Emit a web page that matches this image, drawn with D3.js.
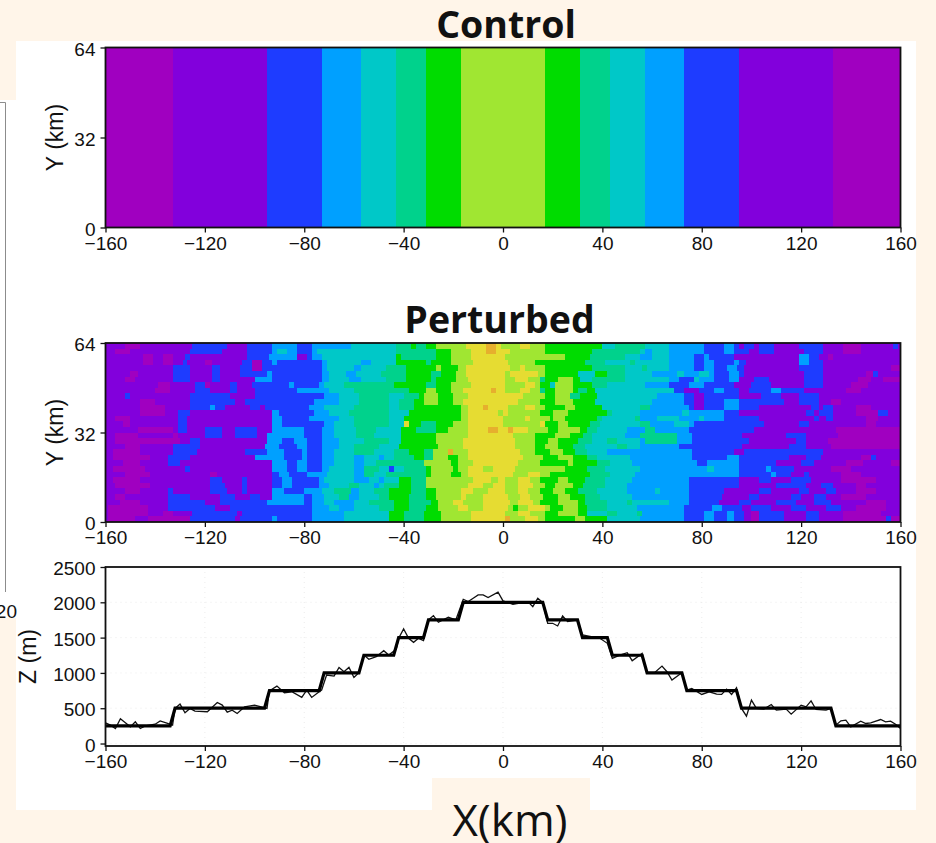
<!DOCTYPE html>
<html>
<head>
<meta charset="utf-8">
<script src="https://cdn.jsdelivr.net/npm/d3@7"></script>
<style>
  html, body { margin: 0; padding: 0; background: #fff5e9; }
  svg { display: block; }
  text { fill: #111; }
</style>
</head>
<body>
<div id="chart"></div>
<script>
// Colour levels of the shaded field
const levelColors = ["#a000c0", "#8200dc", "#1e3cff", "#00a0ff", "#00c8c8", "#00d28c", "#00dc00", "#a0e632", "#e6dc32", "#e6af2d"]

const xTicks = [-160, -120, -80, -40, 0, 40, 80, 120, 160]
const yTicks = [0, 32, 64]
const zTicks = [0, 500, 1000, 1500, 2000, 2500]

// Control run: level and right edge (km) of each band
const controlLevels = [0, 1, 2, 3, 4, 5, 6, 7, 6, 5, 4, 3, 2, 1, 0]
const controlEdges = [-133, -95, -73, -57, -43, -31, -17, 17, 31, 43, 57, 73, 95, 133, 160]

// Perturbed run, top row first: pairs of level and right edge (km)
const perturbedRows = [
  "1 -152 0 -146 1 -125 2 -111 1 -103 2 -93 3 -83 2 -77 3 -61 4 -43 5 -37 6 -35 5 -31 6 -27 7 -15 8 -7 9 -3 8 -1 7 7 8 11 7 17 6 40 4 45 5 57 4 67 3 81 2 89 3 93 2 95 1 97 2 101 1 103 2 109 1 119 2 129 1 137 0 144 1 157 2 159 1 160",
  "1 -156 0 -150 1 -126 2 -113 1 -103 2 -93 3 -91 4 -87 3 -83 2 -77 3 -75 4 -43 5 -27 6 -21 7 -13 8 -7 9 -3 8 3 7 17 6 36 5 55 4 57 3 60 4 67 3 81 2 89 3 93 2 99 1 103 2 109 1 121 2 129 1 137 0 144 1 160",
  "1 -145 0 -141 1 -137 0 -133 1 -128 2 -126 1 -103 2 -94 3 -83 1 -79 2 -77 3 -73 4 -43 6 -41 5 -27 6 -21 7 -13 8 1 7 25 6 35 5 49 4 55 3 60 4 67 3 77 2 81 3 83 2 93 1 119 3 123 2 127 1 131 0 133 1 160",
  "1 -145 0 -141 1 -137 0 -133 1 -129 2 -127 1 -120 0 -117 1 -105 2 -101 0 -97 2 -93 3 -91 2 -73 3 -71 4 -57 3 -53 4 -43 6 -31 5 -29 6 -21 7 -12 8 2 7 13 6 33 5 41 4 51 5 53 4 67 3 77 2 81 3 85 2 93 3 95 2 98 1 119 3 123 2 129 1 160",
  "1 -133 2 -126 1 -117 2 -114 1 -106 2 -101 0 -97 2 -91 2 -73 3 -71 4 -60 3 -57 4 -47 5 -39 6 -27 7 -25 6 -18 7 -15 8 3 7 7 8 9 7 17 6 36 5 49 4 56 5 58 4 67 3 77 2 81 3 85 2 90 3 94 2 97 1 119 2 129 1 156 0 160",
  "1 -150 0 -147 1 -133 2 -126 1 -117 2 -114 1 -106 2 -95 3 -93 2 -73 3 -70 4 -63 3 -59 4 -49 5 -39 6 -29 5 -25 6 -19 7 -15 8 1 7 3 8 14 7 17 6 30 4 37 6 42 5 49 4 60 3 70 4 73 3 79 4 83 3 85 2 91 3 95 2 97 1 121 2 129 1 146 0 149 2 151 1 160",
  "1 -152 0 -148 1 -133 2 -126 1 -117 2 -114 1 -100 3 -93 2 -73 3 -70 4 -62 3 -57 4 -47 5 -39 6 -29 5 -27 6 -19 7 -14 8 1 7 5 8 10 7 15 5 17 6 22 7 28 6 31 4 36 5 49 4 67 3 71 2 77 4 79 3 85 2 91 3 95 1 101 2 107 1 121 2 129 1 143 0 148 1 153 0 160",
  "1 -139 0 -134 1 -124 2 -120 0 -118 1 -110 2 -107 1 -101 2 -86 3 -84 2 -74 3 -72 4 -64 5 -44 6 -31 5 -27 6 -21 7 -13 8 1 7 9 8 13 7 15 6 19 4 21 7 28 6 36 5 42 4 57 3 67 2 75 3 81 2 93 1 100 2 108 1 121 2 129 1 140 0 147 1 160",
  "1 -140 0 -134 1 -124 2 -118 1 -110 2 -107 1 -100 2 -83 3 -74 3 -70 4 -60 5 -44 5 -38 6 -31 7 -27 6 -21 7 -16 8 -5 9 -3 8 1 7 7 8 11 7 15 5 17 6 21 7 28 6 30 5 34 6 37 4 60 4 69 2 73 1 79 2 85 3 89 2 95 1 99 2 108 3 112 2 121 1 138 0 144 1 160",
  "1 -152 2 -150 1 -126 2 -110 1 -100 2 -72 3 -66 4 -58 5 -46 4 -40 5 -34 6 -32 7 -26 6 -20 7 -14 8 0 8 8 7 17 6 21 7 27 5 31 6 38 4 62 3 73 2 77 1 81 2 95 1 104 2 112 1 119 2 127 1 160",
  "1 -146 0 -140 1 -126 2 -108 1 -104 2 -76 3 -66 4 -58 5 -46 4 -42 5 -36 6 -32 7 -26 6 -20 7 -16 8 0 8 6 7 15 6 21 7 28 6 37 4 60 3 73 2 77 1 81 2 89 3 95 2 113 1 119 2 127 1 132 0 136 1 160",
  "1 -146 0 -136 1 -126 2 -118 3 -116 2 -112 1 -102 2 -98 1 -96 2 -78 3 -72 4 -60 5 -46 4 -42 5 -36 6 -17 7 -14 8 -8 9 -6 8 2 7 9 8 13 7 17 6 25 7 29 6 40 4 55 5 59 3 75 2 77 1 81 2 89 3 95 2 103 1 124 2 127 1 129 2 133 1 142 0 148 1 160",
  "1 -146 0 -136 1 -131 2 -126 1 -93 3 -90 2 -76 3 -70 4 -62 5 -46 4 -38 6 -17 7 -14 8 -2 7 0 8 2 7 15 6 20 7 26 6 42 5 44 4 55 3 72 4 75 3 81 3 89 2 95 1 122 2 125 1 127 2 133 1 142 0 151 2 155 1 160",
  "1 -156 0 -150 1 -131 2 -127 1 -93 3 -89 2 -78 3 -74 3 -66 4 -60 5 -46 4 -40 6 -17 7 -14 8 0 7 9 8 11 7 19 6 20 7 25 6 38 5 40 4 53 5 55 3 62 4 71 3 79 4 81 3 89 2 103 1 125 2 127 1 130 2 133 1 146 0 151 1 160",
  "1 -153 0 -150 1 -131 2 -127 1 -93 3 -89 2 -72 3 -68 4 -60 5 -46 4 -40 8 -38 6 -33 5 -27 6 -20 7 -14 8 0 7 15 8 17 6 22 7 26 6 35 5 39 4 55 5 59 3 69 4 75 3 77 2 105 1 119 2 123 1 146 0 150 1 160",
  "1 -147 0 -133 1 -131 2 -127 1 -120 2 -113 1 -108 2 -99 1 -93 3 -80 2 -73 3 -68 4 -59 5 -51 4 -41 6 -35 5 -27 6 -22 7 -14 8 -6 9 -2 8 2 9 4 8 10 7 18 6 22 7 31 6 34 5 38 4 50 3 57 5 61 3 75 2 101 1 122 1 134 0 160",
  "1 -156 0 -147 1 -133 0 -131 1 -120 2 -113 1 -108 2 -99 1 -95 3 -80 2 -73 3 -68 4 -59 5 -52 4 -41 6 -27 7 -14 8 0 8 4 7 13 6 21 7 27 6 32 5 36 4 49 3 55 5 70 3 76 2 96 1 114 2 122 1 135 0 160",
  "1 -156 0 -130 1 -126 2 -122 1 -95 3 -89 2 -84 3 -79 2 -73 3 -66 4 -56 5 -46 4 -41 6 -27 7 -16 8 -1 8 5 7 13 6 18 7 22 6 30 5 36 4 42 5 46 4 55 3 57 5 70 3 76 2 99 1 118 2 122 1 131 0 160",
  "1 -152 0 -146 1 -133 2 -122 1 -96 3 -90 2 -83 3 -79 2 -73 3 -66 4 -60 5 -50 4 -42 6 -26 7 -16 8 -1 8 5 7 13 6 17 7 22 6 28 5 33 4 46 5 50 4 55 3 71 2 96 1 115 2 122 1 132 0 160",
  "1 -157 0 -146 1 -133 2 -123 1 -104 2 -95 3 -88 2 -81 3 -79 2 -73 3 -68 4 -60 5 -52 4 -44 5 -38 6 -32 5 -28 7 -22 9 -20 7 -14 8 -1 8 7 7 13 6 19 7 24 6 29 5 34 4 42 3 76 2 93 1 97 2 129 1 160",
  "1 -157 0 -142 1 -135 2 -126 1 -100 3 -88 2 -81 3 -79 2 -73 3 -68 4 -60 3 -56 4 -50 3 -48 4 -44 5 -36 6 -32 5 -28 7 -22 6 -18 7 -14 8 -1 8 8 7 16 6 22 7 28 6 34 5 38 4 51 3 76 2 90 3 95 2 115 1 122 2 128 1 144 0 148 2 150 1 160",
  "1 -153 0 -146 1 -135 2 -130 1 -93 3 -87 2 -83 3 -79 2 -73 3 -68 4 -60 3 -56 4 -51 5 -40 5 -32 7 -21 6 -18 7 -12 8 -1 8 6 7 15 6 26 7 28 6 38 5 43 4 52 3 78 2 82 3 95 2 110 1 120 2 125 1 138 0 145 1 156 0 160",
  "1 -157 0 -144 1 -128 2 -126 1 -93 3 -87 2 -83 3 -79 2 -73 3 -70 4 -60 3 -56 5 -50 4 -46 2 -44 4 -40 5 -31 6 -29 7 -20 6 -18 7 -14 8 -8 7 -4 8 1 8 5 7 10 7 25 6 34 5 41 4 55 3 82 4 85 3 95 2 106 3 108 2 117 1 124 1 132 0 140 1 160",
  "1 -152 0 -142 1 -118 0 -115 1 -93 2 -90 3 -86 2 -79 3 -76 3 -71 4 -60 3 -56 5 -52 4 -47 5 -31 6 -29 7 -21 6 -17 7 -14 8 -1 8 4 7 10 8 15 7 19 6 35 5 43 4 53 3 95 2 108 3 110 2 116 1 121 2 123 1 136 0 144 1 160",
  "1 -157 0 -146 1 -118 2 -113 1 -105 2 -103 1 -93 2 -89 3 -85 2 -74 3 -72 4 -60 3 -54 4 -50 3 -48 4 -42 6 -37 5 -31 7 -22 7 -12 8 -5 7 -2 8 1 7 6 8 11 7 15 6 22 7 26 6 33 5 41 4 52 3 75 2 95 1 103 2 108 1 116 2 124 1 136 0 150 1 160",
  "1 -156 0 -142 1 -118 2 -112 1 -105 2 -103 1 -93 2 -89 3 -85 2 -74 3 -70 4 -62 5 -58 4 -52 3 -50 4 -48 5 -42 6 -37 5 -31 7 -22 7 -14 8 -8 7 -4 8 1 7 6 8 12 7 17 6 21 7 28 6 32 5 41 4 50 3 75 2 95 1 110 2 122 1 128 2 133 1 142 0 146 1 160",
  "1 -152 0 -146 1 -135 2 -133 1 -118 2 -111 1 -105 2 -103 1 -93 3 -88 2 -80 3 -73 4 -68 5 -61 3 -58 4 -52 5 -46 6 -37 5 -31 6 -27 7 -17 8 -12 7 -6 8 1 7 6 8 10 7 15 6 20 7 25 6 30 5 38 4 50 3 61 4 63 3 75 2 89 1 103 2 108 1 119 2 123 1 130 2 134 1 142 0 150 1 160",
  "1 -156 0 -152 1 -135 2 -126 1 -114 2 -108 1 -102 2 -98 1 -93 3 -80 2 -77 3 -72 4 -66 5 -62 3 -58 4 -50 5 -46 6 -38 5 -31 6 -27 7 -17 8 -15 7 -8 8 2 7 7 8 11 7 16 6 22 7 27 6 33 5 39 4 52 3 75 2 88 1 99 2 103 1 116 2 120 1 125 2 130 1 136 0 146 1 160",
  "1 -154 0 -146 1 -135 2 -120 1 -114 2 -95 3 -92 3 -80 2 -77 3 -72 4 -68 3 -60 4 -54 5 -44 6 -38 5 -29 6 -26 7 -20 8 -16 7 -8 8 3 7 6 8 12 7 15 6 22 7 30 6 33 5 42 4 50 5 52 4 67 3 75 2 87 1 95 2 100 1 110 2 118 1 125 2 132 1 146 0 154 1 160",
  "1 -159 0 -143 1 -135 2 -116 1 -110 2 -77 3 -70 4 -66 3 -60 4 -50 5 -44 6 -38 5 -31 6 -26 7 -18 8 -14 7 -8 8 2 7 4 6 6 7 10 8 17 7 19 6 24 7 30 6 34 5 42 4 54 3 73 2 84 3 88 2 96 1 100 2 108 1 116 2 122 1 130 2 136 1 142 0 154 1 160",
  "1 -159 0 -143 1 -137 0 -133 1 -125 2 -107 1 -105 2 -77 3 -64 4 -60 4 -46 6 -40 5 -32 6 -25 7 -13 8 1 7 6 8 11 7 17 6 22 7 30 6 34 4 42 5 46 4 54 5 56 3 73 2 81 3 85 2 90 3 93 2 97 1 100 0 103 2 113 1 122 2 127 1 137 0 152 1 160",
  "1 -159 0 -148 1 -143 0 -126 2 -108 1 -106 2 -93 3 -91 2 -77 3 -64 4 -46 6 -40 5 -32 6 -25 7 -13 8 1 9 3 7 9 8 14 7 17 6 29 7 33 6 42 4 55 3 73 2 81 3 85 2 90 3 93 2 97 1 100 0 103 2 113 1 122 2 127 1 137 0 154 2 156 0 160"
]

// Model height cross-sections
const controlX = [-160, -134, -132, -96, -94, -74, -72, -58, -56, -44, -42, -32, -30, -18, -16, 16, 18, 30, 32, 42, 44, 56, 58, 72, 74, 94, 96, 132, 134, 160]
const controlZ = [250, 250, 500, 500, 750, 750, 1000, 1000, 1250, 1250, 1500, 1500, 1750, 1750, 2000, 2000, 1750, 1750, 1500, 1500, 1250, 1250, 1000, 1000, 750, 750, 500, 500, 250, 250]

const perturbedX = [-160, -158, -156, -154, -152, -150, -148, -146, -144, -140, -138, -135, -133, -132, -130, -128, -126, -124, -119, -115, -113, -111, -109, -107, -104, -100, -95, -94, -91, -88, -85, -81, -79, -77, -74, -73, -71, -68, -66, -64, -62, -60, -58, -56, -54, -51, -48, -46, -43, -42, -40, -38, -36, -34, -32, -30, -28, -26, -22, -19, -16, -14, -12, -10, -8, -6, -2, 0, 4, 10, 12, 14, 16, 18, 20, 22, 24, 26, 30, 32, 34, 39, 42, 44, 47, 50, 52, 56, 58, 61, 64, 66, 68, 72, 74, 76, 80, 83, 86, 88, 90, 92, 94, 96, 98, 100, 102, 105, 108, 110, 114, 116, 120, 122, 124, 126, 130, 132, 134, 136, 138, 140, 144, 146, 148, 152, 154, 156, 158, 160]
const perturbedZ = [293, 260, 213, 350, 293, 236, 307, 213, 250, 274, 321, 284, 260, 497, 558, 435, 497, 459, 450, 582, 544, 445, 473, 425, 520, 544, 497, 747, 813, 719, 733, 653, 757, 653, 733, 757, 970, 955, 1078, 1017, 1078, 936, 1003, 1253, 1192, 1230, 1315, 1253, 1334, 1490, 1622, 1490, 1433, 1490, 1457, 1750, 1812, 1717, 1788, 1750, 2043, 2010, 2057, 2105, 2105, 2067, 2143, 2020, 1972, 2010, 1939, 2057, 1996, 1703, 1703, 1665, 1807, 1726, 1750, 1537, 1523, 1490, 1419, 1206, 1253, 1287, 1173, 1277, 993, 1003, 1097, 1017, 899, 1003, 757, 780, 695, 733, 700, 695, 771, 695, 790, 497, 388, 615, 497, 487, 553, 473, 487, 416, 544, 520, 605, 482, 473, 497, 260, 322, 331, 236, 317, 284, 293, 340, 307, 317, 274, 213]

const width = 936
const height = 843
const plotLeft = 105.5
const plotRight = 900.5
const tickFont = '"Liberation Sans", Arial, sans-serif'

const svg = d3.select("#chart").append("svg")
  .attr("width", width)
  .attr("height", height)

// Pasted-slide backdrop: white sheet on cream with the remains of a neighbouring panel
svg.append("rect").attr("width", width).attr("height", height).attr("fill", "#fff5e9")
svg.append("rect").attr("x", 16).attr("y", 41).attr("width", 900).attr("height", 769).attr("fill", "#fff")
svg.append("rect").attr("x", 0).attr("y", 100).attr("width", 16).attr("height", 518).attr("fill", "#fff")
svg.append("rect").attr("x", 432).attr("y", 778).attr("width", 158).attr("height", 32).attr("fill", "#fff5e9")
svg.append("path").attr("d", "M0,102.5H5.5V592").attr("fill", "none").attr("stroke", "#8c8c8c").attr("stroke-width", 1)
svg.append("text").attr("x", 17).attr("y", 618).attr("text-anchor", "end")
  .style("font", `19px ${tickFont}`).text("20")

const x = d3.scaleLinear().domain([-160, 160]).range([plotLeft, plotRight])

function drawAxes(top, bottom, yScale, yValues, yLabel, labelX) {
  const xAxis = d3.axisBottom(x).tickValues(xTicks).tickSize(5).tickPadding(4)
  const yAxis = d3.axisLeft(yScale).tickValues(yValues).tickSize(5).tickPadding(5).tickFormat(d3.format("d"))

  const gx = svg.append("g").attr("transform", `translate(0,${bottom})`).call(xAxis)
  const gy = svg.append("g").attr("transform", `translate(${plotLeft},0)`).call(yAxis)
  for (const g of [gx, gy]) {
    g.select(".domain").remove()
    g.selectAll("line").attr("stroke", "#111").attr("stroke-width", 1.3)
    g.selectAll("text").style("font", `19px ${tickFont}`).attr("fill", "#111")
  }
  gy.selectAll("text").attr("dy", "0.4em")

  svg.append("rect")
    .attr("x", plotLeft).attr("y", top)
    .attr("width", plotRight - plotLeft).attr("height", bottom - top)
    .attr("fill", "none").attr("stroke", "#111").attr("stroke-width", 1.8)

  svg.append("text")
    .attr("transform", `translate(${labelX},${(top + bottom) / 2}) rotate(-90)`)
    .attr("text-anchor", "middle")
    .style("font", `23px ${tickFont}`)
    .text(yLabel)
}

function drawTitle(label, midX, baseY) {
  svg.append("text")
    .attr("x", midX).attr("y", baseY).attr("text-anchor", "middle")
    .style("font", 'bold 37.5px "Open Sans", sans-serif')
    .text(label)
}

// Control panel
const yControl = d3.scaleLinear().domain([0, 64]).range([227.5, 47.5])
svg.append("g").attr("shape-rendering", "crispEdges").selectAll("rect")
  .data(controlLevels)
  .join("rect")
  .attr("x", (d, i) => x(i == 0 ? -160 : controlEdges[i - 1]))
  .attr("y", yControl(64))
  .attr("width", (d, i) => x(controlEdges[i]) - x(i == 0 ? -160 : controlEdges[i - 1]))
  .attr("height", yControl(0) - yControl(64))
  .attr("fill", d => levelColors[d])
drawAxes(47.5, 227.5, yControl, yTicks, "Y (km)", 63)
drawTitle("Control", 506, 38)

// Perturbed panel
const yPerturbed = d3.scaleLinear().domain([0, 64]).range([522, 343])
const cells = []
perturbedRows.forEach((row, r) => {
  const parts = row.split(" ").map(Number)
  let start = -160
  for (let i = 0; i < parts.length; i += 2) {
    cells.push({ r: r, level: parts[i], x0: start, x1: parts[i + 1] })
    start = parts[i + 1]
  }
})
svg.append("g").attr("shape-rendering", "crispEdges").selectAll("rect")
  .data(cells)
  .join("rect")
  .attr("x", d => x(d.x0))
  .attr("y", d => yPerturbed(64 - d.r * 2))
  .attr("width", d => x(d.x1) - x(d.x0))
  .attr("height", yPerturbed(0) - yPerturbed(2))
  .attr("fill", d => levelColors[d.level])
drawAxes(343, 522, yPerturbed, yTicks, "Y (km)", 63)
drawTitle("Perturbed", 499.5, 333)

// Height panel
const yZ = d3.scaleLinear().domain([-35, 2500]).range([746, 567])
const grid = svg.append("g").attr("stroke", "#e4e4e4").attr("stroke-width", 0.7).attr("stroke-dasharray", "1,4")
grid.selectAll("line.v").data(xTicks).join("line").attr("class", "v")
  .attr("x1", d => x(d)).attr("x2", d => x(d)).attr("y1", 567).attr("y2", 746)
grid.selectAll("line.h").data(zTicks).join("line").attr("class", "h")
  .attr("x1", plotLeft).attr("x2", plotRight).attr("y1", d => yZ(d)).attr("y2", d => yZ(d))

const zLine = d3.line().x(d => x(d[0])).y(d => yZ(d[1]))
svg.append("path")
  .attr("d", zLine(d3.zip(perturbedX, perturbedZ)))
  .attr("fill", "none").attr("stroke", "#111").attr("stroke-width", 1.3)
svg.append("path")
  .attr("d", zLine(d3.zip(controlX, controlZ)))
  .attr("fill", "none").attr("stroke", "#000").attr("stroke-width", 3.2)
drawAxes(567, 746, yZ, zTicks, "Z (m)", 36)

svg.append("text")
  .attr("x", 510).attr("y", 836).attr("text-anchor", "middle")
  .style("font", '44px "Open Sans", sans-serif')
  .text("X(km)")
</script>
</body>
</html>
